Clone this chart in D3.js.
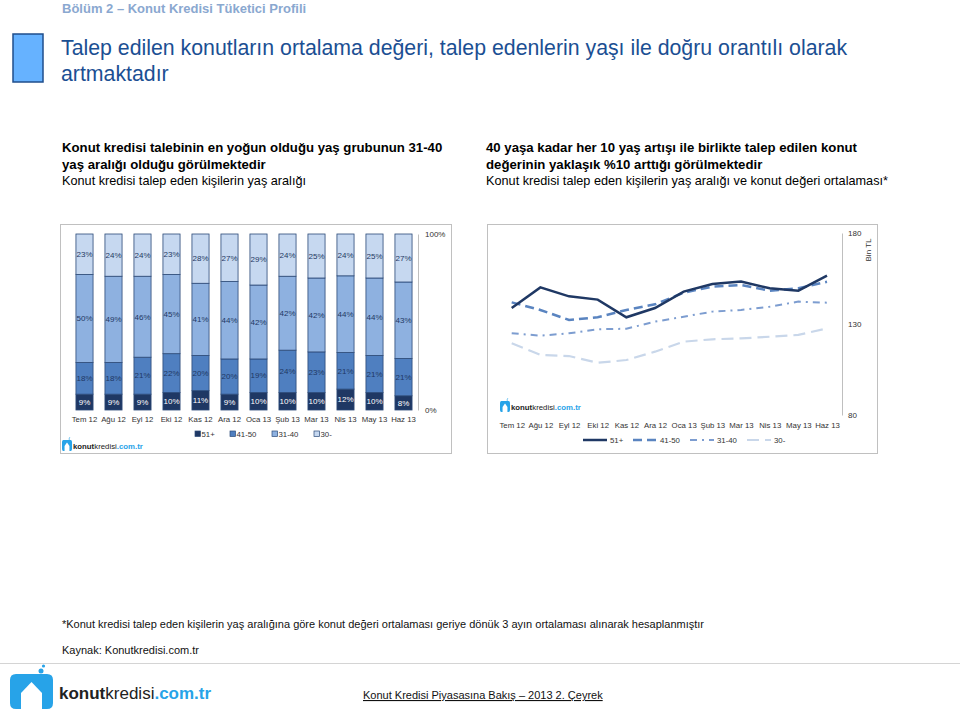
<!DOCTYPE html>
<html><head><meta charset="utf-8">
<script src="https://cdn.jsdelivr.net/npm/d3@7"></script>
<style>
body{margin:0;background:#fff;}
svg{display:block;font-family:"Liberation Sans",Arial,sans-serif;}
</style></head>
<body><svg id="c" width="960" height="712"></svg>
<script>
const months = ["Tem 12","Ağu 12","Eyl 12","Eki 12","Kas 12","Ara 12","Oca 13","Şub 13","Mar 13","Nis 13","May 13","Haz 13"];
const ageGroups = ["51+","41-50","31-40","30-"];
// share of applicants by age group (%)
const share51 = [9,9,9,10,11,9,10,10,10,12,10,8];
const share4150 = [18,18,21,22,20,20,19,24,23,21,21,21];
const share3140 = [50,49,46,45,41,44,42,42,42,44,44,43];
const share30 = [23,24,24,23,28,27,29,24,25,24,25,27];
// average house value (thousand TL)
const value51 = [138.8,150.1,145.2,143.4,133.7,138.8,147.8,152,153.3,149.6,148.3,156.6];
const value4150 = [141.9,137.7,132.2,133.7,137.7,140.8,147.2,150.5,151.4,148.3,149.6,153.2];
const value3140 = [124.9,123.6,124.9,127.1,127.4,131.3,134,136.8,137.7,139.5,142.3,141.7];
const value30 = [119.4,113,112.4,108.7,110.2,114.8,120.3,121.6,122.1,123,124,127.6];
const pctTicks = ["0%","100%"];
const valTicks = [80,130,180];

const svg = d3.select("#c");
const navy="#1f3864", mid="#4f7fc0", light="#8eb1e0", pale="#c6d8f0";
const barColors=[navy,mid,light,pale];
const lineColors=["#1f3864","#5a84c0","#7d9dd0","#c9d7ea"];
const axisFont = 7.8;

// ===== Header =====
svg.append("text").attr("x",62).attr("y",13).attr("font-size",13).attr("font-weight","bold").attr("fill","#8aa8d0").text("Bölüm 2 – Konut Kredisi Tüketici Profili");
svg.append("rect").attr("x",13).attr("y",34).attr("width",30).attr("height",48).attr("fill","#66b2ff").attr("stroke","#1f4e8c").attr("stroke-width",1.5);
const t = svg.append("text").attr("font-size",21.3).attr("fill","#1b4f93");
t.append("tspan").attr("x",61).attr("y",55).text("Talep edilen konutların ortalama değeri, talep edenlerin yaşı ile doğru orantılı olarak");
t.append("tspan").attr("x",61).attr("y",81).text("artmaktadır");

function subhead(x, lines){
  lines.forEach((l,i)=>{
    svg.append("text").attr("x",x).attr("y",152+i*16.5).attr("font-size",i<2?13.2:12.7)
      .attr("font-weight",i<2?"bold":"normal").attr("fill","#000").text(l);
  });
}
subhead(62,["Konut kredisi talebinin en yoğun olduğu yaş grubunun 31-40","yaş aralığı olduğu görülmektedir","Konut kredisi talep eden kişilerin yaş aralığı"]);
subhead(486,["40 yaşa kadar her 10 yaş artışı ile birlikte talep edilen konut","değerinin yaklaşık %10 arttığı görülmektedir","Konut kredisi talep eden kişilerin yaş aralığı ve konut değeri ortalaması*"]);

// ===== Logo helper =====
function logo(x, y, w, h, fs, tx0, base){
  const L = svg.append("g");
  const H = L.append("g").attr("transform",`translate(${x},${y}) scale(${w/43},${h/35})`);
  H.append("path").attr("d","M0,6 Q0,0 6,0 L37,0 Q43,0 43,6 L43,29 Q43,35 37,35 L6,35 Q0,35 0,29 Z").attr("fill","#27a3e8");
  H.append("path").attr("d","M11,35 L11,19 L21.5,8 L32,19 L32,35 Z").attr("fill","#fff");
  H.append("circle").attr("cx",31).attr("cy",-3).attr("r",2.5).attr("fill","#27a3e8");
  H.append("circle").attr("cx",33.5).attr("cy",-8).attr("r",1.6).attr("fill","#27a3e8");
  const tx = L.append("text").attr("x",tx0).attr("y",base).attr("font-size",fs);
  tx.append("tspan").attr("font-weight","bold").attr("fill","#222").text("konut");
  tx.append("tspan").attr("fill","#222").text("kredisi");
  tx.append("tspan").attr("fill","#27a3e8").attr("font-weight","bold").text(".com.tr");
}

// ===== Left chart: stacked bars =====
svg.append("rect").attr("x",60.5).attr("y",224.5).attr("width",391).attr("height",229).attr("fill","none").attr("stroke","#c0c0c0");
const xb = d3.scaleBand().domain(months).range([70,418]).paddingInner(0.41).paddingOuter(0.205);
const yb = d3.scaleLinear().domain([0,1]).range([410,234]);
const rows = months.map((m,i)=>({m, "51+":share51[i], "41-50":share4150[i], "31-40":share3140[i], "30-":share30[i]}));
const stack = d3.stack().keys(ageGroups).offset(d3.stackOffsetExpand)(rows);
const bars = svg.append("g");
stack.forEach((layer,k)=>{
  layer.forEach((d,i)=>{
    const y0=yb(d[0]), y1=yb(d[1]);
    bars.append("rect").attr("x",xb(months[i])).attr("y",y1).attr("width",xb.bandwidth()).attr("height",y0-y1)
      .attr("fill",barColors[k]).attr("stroke","#2c4a78").attr("stroke-width",0.8);
    bars.append("text").attr("x",xb(months[i])+xb.bandwidth()/2).attr("y",(y0+y1)/2).attr("dy","0.35em")
      .attr("text-anchor","middle").attr("font-size",8).attr("fill",k===0?"#fff":"#1f3864")
      .text(rows[i][ageGroups[k]]+"%");
  });
});
const yAxisL = d3.axisRight(yb).tickValues([0,1]).tickFormat((d,i)=>pctTicks[i]).tickSize(0).tickPadding(7);
const gyl = svg.append("g").attr("transform","translate(418,0)").call(yAxisL);
gyl.select(".domain").attr("stroke","#bfbfbf");
gyl.selectAll("text").attr("font-size",8).attr("fill","#333").attr("font-family","Liberation Sans, Arial");
const xAxisL = d3.axisBottom(xb).tickSize(0).tickPadding(6);
const gxl = svg.append("g").attr("transform","translate(0,410)").call(xAxisL);
gxl.select(".domain").remove();
gxl.selectAll("text").attr("font-size",axisFont).attr("fill","#333").attr("font-family","Liberation Sans, Arial");
// legend left
const legL = svg.append("g");
const legLx=[195,230,272,314];
ageGroups.forEach((a,k)=>{
  legL.append("rect").attr("x",legLx[k]).attr("y",431).attr("width",5.5).attr("height",5.5).attr("fill",barColors[k]).attr("stroke","#2c4a78").attr("stroke-width",0.7);
  legL.append("text").attr("x",legLx[k]+6.5).attr("y",437).attr("font-size",axisFont).attr("fill","#333").text(a);
});
logo(62, 440, 10, 11, 7.8, 73, 449);

// ===== Right chart: lines =====
svg.append("rect").attr("x",487.5).attr("y",224.5).attr("width",390).attr("height",229).attr("fill","none").attr("stroke","#c0c0c0");
const xl = d3.scalePoint().domain(months).range([511.7,827]);
const yl = d3.scaleLinear().domain([80,180]).range([415,233]);
const series = [value51,value4150,value3140,value30];
const dashes = [null,"9,5","7,5,2,5","12,6"];
const widths = [2.5,2.5,2,2.2];
const line = d3.line().x((d,i)=>xl(months[i])).y(d=>yl(d));
[3,2,1,0].forEach(k=>{
  svg.append("path").datum(series[k]).attr("d",line).attr("fill","none").attr("stroke",lineColors[k])
    .attr("stroke-width",widths[k]).attr("stroke-dasharray",dashes[k]);
});
const yAxisR = d3.axisRight(yl).tickValues(valTicks).tickSize(0).tickPadding(6);
const gyr = svg.append("g").attr("transform","translate(842,0)").call(yAxisR);
gyr.select(".domain").attr("stroke","#bfbfbf");
gyr.selectAll("text").attr("font-size",8).attr("fill","#333").attr("font-family","Liberation Sans, Arial");
svg.append("text").attr("transform","translate(871,250) rotate(-90)").attr("text-anchor","middle").attr("font-size",8).attr("fill","#333").text("Bin TL");
const xAxisR = d3.axisBottom(xl).tickSize(0).tickPadding(5);
const gxr = svg.append("g").attr("transform","translate(0,417)").call(xAxisR);
gxr.select(".domain").remove();
gxr.selectAll("text").attr("font-size",axisFont).attr("fill","#333").attr("font-family","Liberation Sans, Arial");
const legR = svg.append("g");
const legRx=[583,633,690,747];
ageGroups.forEach((a,k)=>{
  legR.append("line").attr("x1",legRx[k]).attr("x2",legRx[k]+24).attr("y1",440).attr("y2",440)
    .attr("stroke",lineColors[k]).attr("stroke-width",widths[k]).attr("stroke-dasharray",dashes[k]);
  legR.append("text").attr("x",legRx[k]+27).attr("y",443).attr("font-size",axisFont).attr("fill","#333").text(a);
});
logo(500, 401, 10, 11, 7.8, 511, 410);

// ===== Footer =====
svg.append("text").attr("x",62).attr("y",628).attr("font-size",11).attr("fill","#111")
  .text("*Konut kredisi talep eden kişilerin yaş aralığına göre konut değeri ortalaması geriye dönük 3 ayın ortalaması alınarak hesaplanmıştır");
svg.append("text").attr("x",62).attr("y",654).attr("font-size",11).attr("fill","#111").text("Kaynak: Konutkredisi.com.tr");
svg.append("line").attr("x1",0).attr("x2",960).attr("y1",663.5).attr("y2",663.5).attr("stroke","#d4d4d4");
svg.append("text").attr("x",363).attr("y",699).attr("font-size",11).attr("fill","#111")
  .attr("text-decoration","underline").text("Konut Kredisi Piyasasına Bakış – 2013 2. Çeyrek");
logo(10, 674, 43, 35, 17, 59, 699);
</script></body></html>
